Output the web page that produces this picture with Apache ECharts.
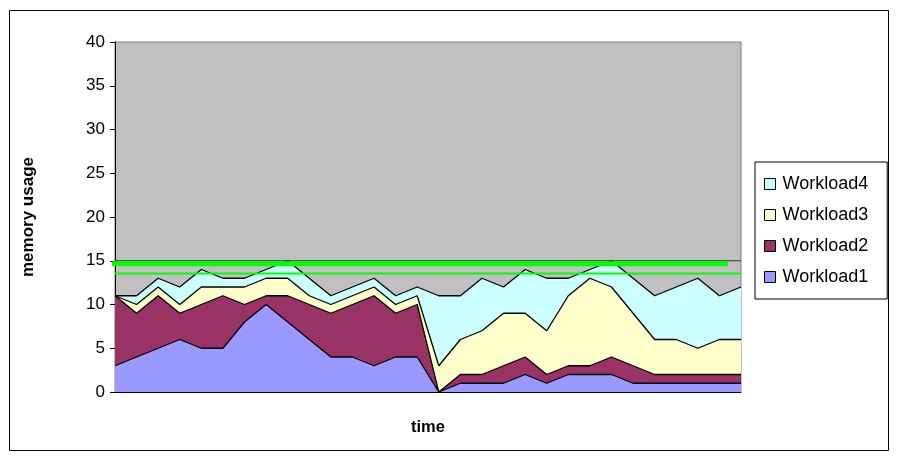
<!DOCTYPE html>
<html>
<head>
<meta charset="utf-8">
<script src="https://cdn.jsdelivr.net/npm/echarts@6/dist/echarts.min.js"></script>
<style>
html,body{margin:0;padding:0;background:#fff;}
#c{width:898px;height:463px;}
</style>
</head>
<body>
<div id="c"></div>
<script>
const categories = ['1','2','3','4','5','6','7','8','9','10','11','12','13','14','15','16','17','18','19','20','21','22','23','24','25','26','27','28','29','30'];
const workload1 = [3,4,5,6,5,5,8,10,8,6,4,4,3,4,4,0,1,1,1,2,1,2,2,2,1,1,1,1,1,1];
const workload2 = [8,5,6,3,5,6,2,1,3,4,5,6,8,5,6,0,1,1,2,2,1,1,1,2,2,1,1,1,1,1];
const workload3 = [0,1,1,1,2,1,2,2,2,1,1,1,1,1,1,3,4,5,6,5,5,8,10,8,6,4,4,3,4,4];
const workload4 = [0,1,1,2,2,1,1,1,2,2,1,1,1,1,1,8,5,6,3,5,6,2,1,3,4,5,6,8,5,6];
const seriesNames = ['Workload1','Workload2','Workload3','Workload4'];
const limitHigh = 14.65;
const limitLow = 13.55;
const yTicks = [0,5,10,15,20,25,30,35,40];

const fills = ['#9999FF','#993366','#FFFFCC','#CCFFFF'];
const values = [workload1, workload2, workload3, workload4];
const FONT = '"Liberation Sans", Arial, sans-serif';

const chart = echarts.init(document.getElementById('c'), null, {renderer:'canvas'});

const areaSeries = seriesNames.map((n, i) => ({
  name: n,
  type: 'line',
  stack: 'mem',
  data: values[i],
  showSymbol: false,
  symbol: 'none',
  lineStyle: {color: '#000', width: 1.3},
  itemStyle: {color: fills[i], borderColor: '#000', borderWidth: 1},
  areaStyle: {color: fills[i], opacity: 1},
  z: 2
}));

const last = categories.length - 1;

chart.setOption({
  animation: false,
  backgroundColor: '#fff',
  graphic: [{
    type: 'rect',
    shape: {x: 9.5, y: 10.5, width: 879, height: 440},
    style: {fill: 'none', stroke: '#000', lineWidth: 1},
    silent: true
  }],
  grid: {
    left: 115, right: 157, top: 42, bottom: 71,
    show: true, backgroundColor: '#C0C0C0', borderColor: '#808080', borderWidth: 1
  },
  legend: {
    data: ['Workload4','Workload3','Workload2','Workload1'],
    orient: 'vertical',
    left: 755, top: 162,
    padding: [13, 19, 13, 9],
    itemGap: 13,
    itemWidth: 11, itemHeight: 11,
    icon: 'rect',
    borderColor: '#000', borderWidth: 1,
    backgroundColor: '#fff',
    itemStyle: {borderColor: '#000', borderWidth: 1},
    textStyle: {fontFamily: FONT, fontSize: 18, color: '#000', padding: [0,0,0,2]}
  },
  xAxis: [{
    type: 'category',
    data: categories,
    boundaryGap: false,
    name: 'time',
    nameLocation: 'middle',
    nameGap: 27,
    nameTextStyle: {fontFamily: FONT, fontSize: 16.5, fontWeight: 'bold', color: '#000'},
    axisLine: {lineStyle: {color: '#000', width: 1}},
    axisTick: {show: false},
    axisLabel: {show: false},
    splitLine: {show: false}
  }, {
    type: 'value',
    min: 0, max: last,
    show: false
  }],
  yAxis: {
    type: 'value',
    min: yTicks[0], max: yTicks[yTicks.length - 1], interval: 5,
    name: 'memory usage',
    nameLocation: 'middle',
    nameGap: 78,
    nameTextStyle: {fontFamily: FONT, fontSize: 17, fontWeight: 'bold', color: '#000'},
    axisLine: {show: true, lineStyle: {color: '#000', width: 1}},
    axisTick: {show: true, inside: false, length: 5, lineStyle: {color: '#000'}},
    axisLabel: {fontFamily: FONT, fontSize: 17, color: '#000', margin: 10},
    splitLine: {show: false}
  },
  series: areaSeries.concat([
    {
      name: 'ref15', type: 'line', xAxisIndex: 1, symbol: 'none', z: 5, clip: false,
      data: [[0, 15], [last, 15]],
      lineStyle: {color: '#333', width: 1}
    },
    {
      name: 'limitLow', type: 'line', xAxisIndex: 1, symbol: 'none', z: 6, clip: false,
      data: [[0, limitLow], [last, limitLow]],
      lineStyle: {color: '#00FF00', width: 2}
    },
    {
      name: 'limitHigh', type: 'line', xAxisIndex: 1, symbol: 'none', z: 7, clip: false,
      data: [[-0.51, limitHigh], [28.4, limitHigh]],
      lineStyle: {color: '#00FF00', width: 5}
    }
  ])
});
</script>
</body>
</html>
